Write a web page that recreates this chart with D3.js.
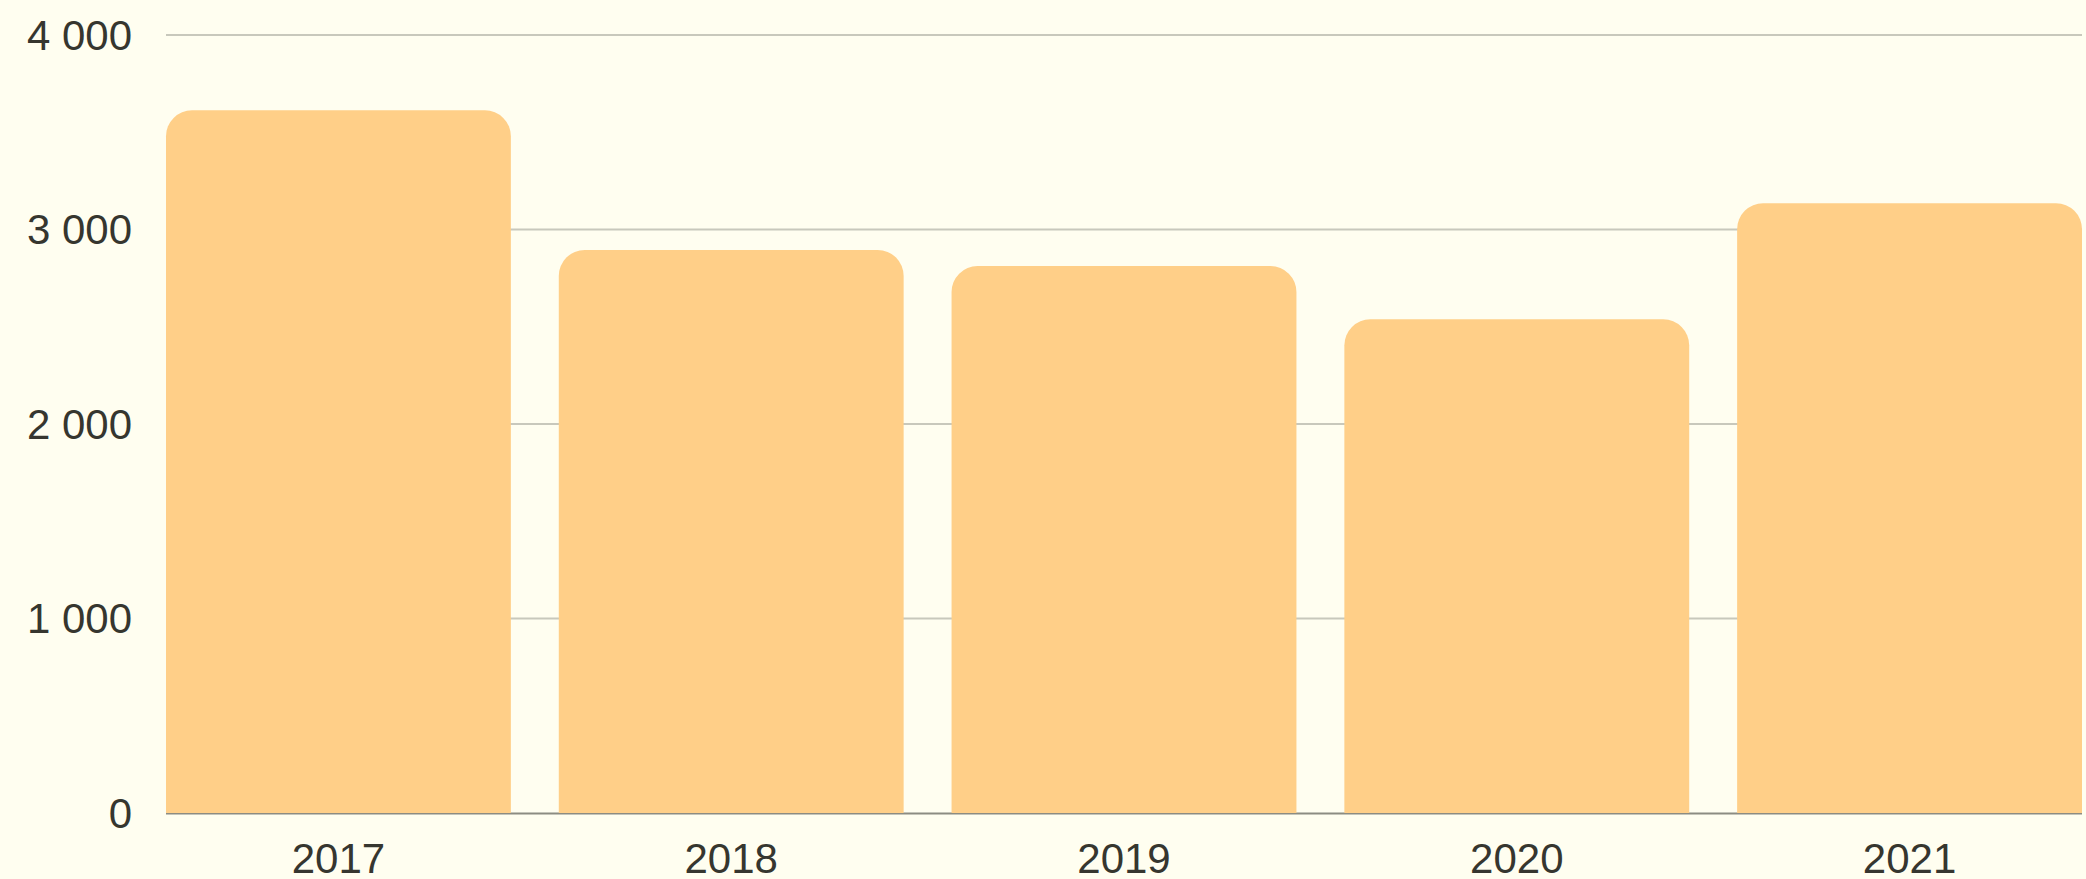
<!DOCTYPE html>
<html>
<head>
<meta charset="utf-8">
<script src="https://cdn.jsdelivr.net/npm/d3@7"></script>
<style>
  html, body { margin: 0; padding: 0; background: #FFFEF0; }
  svg { display: block; }
</style>
</head>
<body>
<svg id="chart" width="2086" height="879"></svg>
<script>
const categories = ["2017", "2018", "2019", "2020", "2021"];
const values = [3613, 2895, 2812, 2538, 3135];
const yTicks = [0, 1000, 2000, 3000, 4000];

const W = 2086, H = 879;
const margin = { left: 166, right: 4, top: 35, bottom: 66 };
const svg = d3.select("#chart");
svg.append("rect").attr("width", W).attr("height", H).attr("fill", "#FFFEF0");

const x = d3.scaleBand().domain(categories)
  .range([margin.left, W - margin.right]).paddingInner(0.122).paddingOuter(0);
const y = d3.scaleLinear().domain([0, 4000]).range([H - margin.bottom, margin.top]);

const fmt = v => d3.format(",")(v).replace(/,/g, " ");

// gridlines
svg.append("g").selectAll("line").data(yTicks.filter(d => d > 0)).join("line")
  .attr("x1", margin.left).attr("x2", W - margin.right)
  .attr("y1", d => y(d)).attr("y2", d => y(d))
  .attr("stroke", "#C8C8BC").attr("stroke-width", 2);

// baseline
svg.append("line")
  .attr("x1", margin.left).attr("x2", W - margin.right)
  .attr("y1", y(0) + 0.5).attr("y2", y(0) + 0.5)
  .attr("stroke", "#8C8C82").attr("stroke-width", 2);

// bars with rounded top corners
const r = 26;
function barPath(d, i) {
  const x0 = x(categories[i]), w = x.bandwidth();
  const y0 = y(d), yb = y(0);
  return `M${x0},${yb} L${x0},${y0 + r} A${r},${r} 0 0 1 ${x0 + r},${y0} ` +
         `L${x0 + w - r},${y0} A${r},${r} 0 0 1 ${x0 + w},${y0 + r} L${x0 + w},${yb} Z`;
}
svg.append("g").selectAll("path").data(values).join("path")
  .attr("d", (d, i) => barPath(d, i))
  .attr("fill", "#FFCF88");

// y labels
svg.append("g").selectAll("text").data(yTicks).join("text")
  .attr("x", 132).attr("y", d => y(d))
  .attr("text-anchor", "end").attr("dominant-baseline", "central")
  .attr("font-family", "Liberation Sans, Arial, sans-serif")
  .attr("font-size", 42).attr("fill", "#36362F")
  .text(fmt);

// x labels
svg.append("g").selectAll("text").data(categories).join("text")
  .attr("x", d => x(d) + x.bandwidth() / 2).attr("y", 873)
  .attr("text-anchor", "middle")
  .attr("font-family", "Liberation Sans, Arial, sans-serif")
  .attr("font-size", 42).attr("fill", "#36362F")
  .text(d => d);
</script>
</body>
</html>
